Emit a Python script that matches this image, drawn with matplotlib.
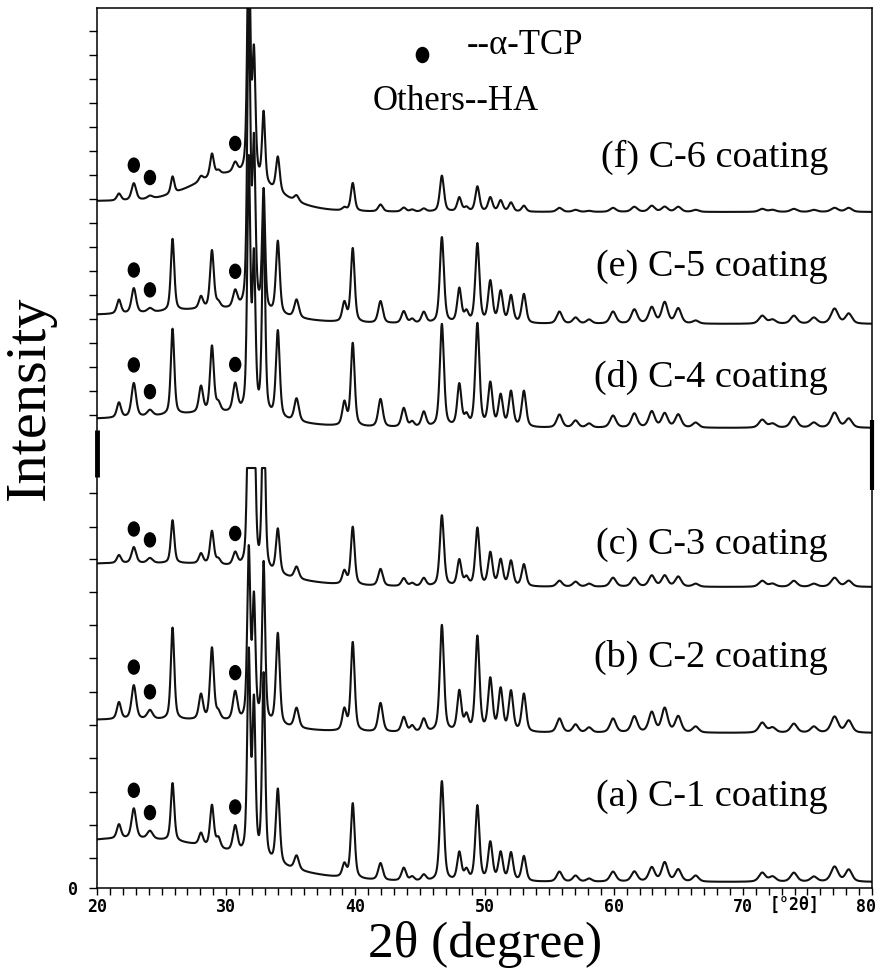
import numpy as np
import matplotlib
matplotlib.use('Agg')
from matplotlib import pyplot as plt
from matplotlib.patches import Ellipse
from matplotlib.ticker import MultipleLocator
from matplotlib.transforms import ScaledTranslation

# reflections (2-theta, degrees) and their widths
peak_pos = [21.7, 22.85, 24.1, 25.85, 28.05, 28.9, 29.4, 30.7, 31.75, 32.15,
            32.9, 34.0, 35.45, 39.15, 39.8, 41.95, 43.75, 44.4, 45.3, 46.7,
            48.05, 48.6, 49.45, 50.45, 51.25, 52.05, 53.05, 55.8, 57.05, 58.1,
            59.95, 61.6, 62.95, 63.95, 65.0, 66.35, 71.5, 72.3, 73.95, 75.5,
            77.1, 78.2]
peak_fwhm = [0.38, 0.42, 0.5, 0.32, 0.38, 0.35, 0.38, 0.42, 0.28, 0.28,
             0.28, 0.35, 0.42, 0.38, 0.35, 0.42, 0.42, 0.38, 0.42, 0.38,
             0.38, 0.38, 0.38, 0.4, 0.4, 0.4, 0.4, 0.5, 0.5, 0.5,
             0.55, 0.55, 0.55, 0.55, 0.55, 0.55, 0.6, 0.6, 0.6, 0.6,
             0.65, 0.6]

# peak heights for each coating, same order as peak_pos
h_c1 = [14, 30, 8, 58, 12, 42, 10, 26, 200, 150, 185, 75, 14, 13, 75, 17, 13, 4, 6, 100,
        28, 10, 75, 38, 28, 28, 25, 10, 6, 3, 10, 10, 14, 19, 12, 6, 9, 5, 9, 5, 15, 12]
h_c2 = [17, 34, 9, 92, 25, 72, 7, 29, 170, 120, 160, 92, 20, 21, 89, 29, 15, 6, 13, 107,
        40, 15, 95, 52, 42, 40, 38, 14, 8, 5, 14, 16, 20, 24, 16, 6, 10, 5, 9, 6, 16, 12]
h_c3 = [8, 16, 5, 43, 10, 33, 5, 13, 200, 170, 190, 45, 12, 13, 58, 17, 8, 3, 8, 71,
        26, 8, 58, 33, 26, 25, 22, 6, 5, 3, 9, 9, 11, 11, 10, 3, 6, 3, 6, 3, 9, 6]
h_c4 = [15, 34, 6, 86, 26, 66, 8, 28, 250, 150, 200, 87, 23, 23, 83, 28, 19, 5, 15, 103,
        42, 10, 103, 43, 31, 35, 36, 13, 7, 4, 12, 14, 16, 14, 13, 5, 8, 4, 11, 5, 15, 9]
h_c5 = [14, 25, 4, 72, 12, 58, 5, 17, 300, 160, 120, 73, 18, 19, 74, 22, 12, 4, 11, 86,
        34, 10, 79, 41, 31, 27, 29, 12, 6, 4, 12, 14, 16, 21, 15, 3, 8, 4, 8, 6, 15, 10]
h_c6 = [7, 17, 3, 17, 5, 23, 4, 10, 250, 120, 70, 35, 6, 3, 28, 7, 4, 2, 3, 36,
        14, 4, 25, 14, 11, 9, 6, 4, 2, 1, 4, 5, 6, 5, 5, 2, 3, 2, 3, 2, 4, 4]
heights = [h_c1, h_c2, h_c3, h_c4, h_c5, h_c6]

labels = ['(a) C-1 coating', '(b) C-2 coating', '(c) C-3 coating',
          '(d) C-4 coating', '(e) C-5 coating', '(f) C-6 coating']
label_y = [91, 231, 343, 511, 621, 731]

# background: stacking level, low-angle rise, amorphous hump
bg_level = [6, 155, 301, 460, 564, 676]
bg_low = [40, 13, 23, 9, 9, 11]
bg_hump = [12, 5, 10, 10, 10, 33]
hump_center = [29, 30, 30, 30, 30, 30.5]
hump_sigma = [5, 4, 4, 4, 4, 3]
clip_level = [None, None, 420, None, None, None]

tcp_peaks = [22.85, 24.1, 30.7]


def pattern(x, i):
    y = (bg_level[i]
         + bg_low[i] * np.exp(-0.5 * ((x - 20) / 8) ** 2)
         + bg_hump[i] * np.exp(-0.5 * ((x - hump_center[i]) / hump_sigma[i]) ** 2))
    for c, w, h in zip(peak_pos, peak_fwhm, heights[i]):
        d = (x - c) / (w / 2)
        y = y + h * (0.5 / (1 + d ** 2) + 0.5 * np.exp(-np.log(2) * d ** 2))
    if clip_level[i] is not None:
        y = np.minimum(y, clip_level[i])
    return y


serif = ['Liberation Serif', 'DejaVu Serif']
mono = ['DejaVu Sans Mono']

fig = plt.figure(figsize=(8.8, 9.73), dpi=100)
ax = fig.add_axes([97 / 880, 85 / 973, 775 / 880, 880 / 973])

x = np.linspace(20, 80, 4000)
for i in range(6):
    ax.plot(x, pattern(x, i), color='#111111', lw=1.5)
    for c in tcp_peaks:
        top = pattern(np.array([c]), i)[0]
        ax.add_patch(Ellipse((c, top + 18), 0.85, 14, color='black'))
    ax.text(76.6, label_y[i], labels[i], ha='right', va='center',
            fontsize=27.5, family=serif)

# phase key
ax.add_patch(Ellipse((45.2, 833), 0.95, 15, color='black'))
ax.text(48.6, 843, '--\u03b1-TCP', ha='left', va='center', fontsize=25, family=serif)
ax.text(41.3, 787, 'Others--HA', ha='left', va='center', fontsize=25, family=serif)

ax.set_xlim(20, 80)
ax.set_ylim(0, 880)

ax.set_xticks(range(20, 81, 10))
ax.xaxis.set_minor_locator(MultipleLocator(1))
ax.set_xticklabels([str(v) for v in range(20, 81, 10)], family=mono,
                   fontweight='bold', fontsize=12)
ax.tick_params(axis='x', which='both', direction='out', length=5, width=1, pad=2)
# keep the last label inside the frame edge
last = ax.get_xticklabels()[-1]
last.set_transform(last.get_transform() + ScaledTranslation(-6 / 100, 0, fig.dpi_scale_trans))

ytick_pos = [0, 30, 63, 96, 130, 163, 196, 230, 263, 296, 329, 361, 395] + \
    list(np.arange(473, 860, 24))
ax.set_yticks(ytick_pos)
ax.set_yticklabels(['0'] + [''] * (len(ytick_pos) - 1), family=mono,
                   fontweight='bold', fontsize=12)
ax.tick_params(axis='y', direction='out', length=6, width=1, pad=8)

for s in ax.spines.values():
    s.set_linewidth(1.1)

# joints in the frame
ax.plot([20, 20], [411, 458], color='black', lw=3.5, clip_on=False,
        solid_capstyle='butt')
ax.plot([80, 80], [398, 468], color='black', lw=3, clip_on=False,
        solid_capstyle='butt')

ax.text(74.0, -0.009, '[\u00b02\u03b8]', transform=ax.get_xaxis_transform(),
        ha='center', va='top', family=mono, fontweight='bold', fontsize=12)

fig.text(485 / 880, 1 - 945 / 973, '2\u03b8 (degree)', ha='center', va='center',
         fontsize=37, family=serif)
fig.text(30 / 880, 1 - 398 / 973, 'Intensity', ha='center', va='center',
         rotation=90, fontsize=42, family=serif)

fig.savefig('out.png', dpi=100)
